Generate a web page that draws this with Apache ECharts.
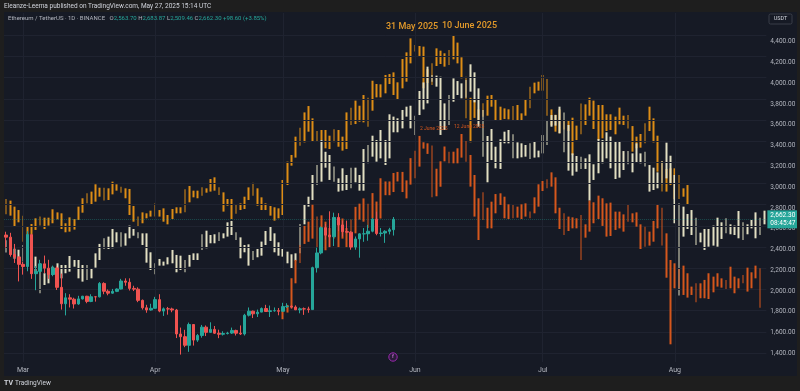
<!DOCTYPE html>
<html><head><meta charset="utf-8">
<script src="https://cdn.jsdelivr.net/npm/echarts/dist/echarts.min.js"></script>
<style>html,body{margin:0;padding:0;background:#161a25;}#c{width:800px;height:391px;}</style>
</head><body><div id="c"></div><script>
// ---- data ----
const startDate = '2025-02-25';
const dayCount = 179;
const monthTicks = ['2025-03-01','2025-04-01','2025-05-01','2025-06-01','2025-07-01','2025-08-01'];
const monthNames = ['Mar','Apr','May','Jun','Jul','Aug'];
const priceTicks = [1400,1600,1800,2000,2200,2400,2600,2800,3000,3200,3400,3600,3800,4000,4200,4400];
const lastPrice = 2662.30;

// ETH/USDT daily candles [open, high, low, close], from 2025-02-25
const ethOHLC = [
[2514,2545,2395,2494],[2494,2535,2310,2330],[2330,2430,2250,2307],[2307,2310,2076,2237],[2237,2260,2140,2217],
[2217,2550,2172,2518],[2518,2525,2100,2149],[2149,2220,1993,2171],[2171,2280,2150,2242],[2242,2320,2155,2201],
[2201,2280,2100,2141],[2141,2225,2125,2203],[2203,2220,1995,2020],[2020,2150,1810,1865],[1865,1965,1755,1921],
[1921,1955,1830,1908],[1908,1922,1820,1863],[1863,1940,1855,1911],[1911,1940,1905,1936],[1936,1940,1870,1887],
[1887,1955,1880,1931],[1931,1935,1885,1930],[1930,2070,1925,2057],[2057,2068,1955,1983],[1983,2000,1945,1965],
[1965,2005,1960,1982],[1982,2010,1975,2004],[2004,2100,2000,2080],[2080,2105,2035,2068],[2068,2105,1990,2010],
[2010,2035,1985,2003],[2003,2020,1880,1897],[1897,1905,1810,1827],[1827,1855,1780,1806],[1806,1865,1800,1822],
[1822,1930,1820,1904],[1904,1955,1785,1796],[1796,1830,1750,1817],[1817,1835,1762,1816],[1816,1828,1785,1806],
[1806,1816,1541,1580],[1580,1640,1385,1554],[1554,1619,1455,1473],[1473,1687,1411,1669],[1669,1670,1470,1522],
[1522,1580,1505,1566],[1566,1665,1545,1644],[1644,1660,1560,1595],[1595,1690,1590,1623],[1623,1655,1580,1587],
[1587,1620,1540,1577],[1577,1605,1565,1584],[1584,1600,1575,1588],[1588,1640,1580,1613],[1613,1620,1565,1587],
[1587,1660,1570,1580],[1580,1770,1565,1757],[1757,1830,1745,1795],[1795,1800,1730,1770],[1770,1810,1740,1786],
[1786,1830,1785,1820],[1820,1855,1790,1792],[1792,1848,1740,1799],[1799,1830,1790,1800],[1800,1825,1756,1794],
[1794,1874,1792,1838],[1838,1870,1825,1842],[1842,1850,1820,1834],[1834,1850,1805,1808],[1808,1830,1775,1817],
[1817,1830,1760,1816],[1816,1837,1780,1810],[1810,2215,1810,2206],[2206,2395,2160,2345],[2345,2595,2332,2583],
[2583,2620,2470,2513],[2513,2738,2400,2497],[2497,2725,2410,2680],[2680,2720,2550,2609],[2609,2650,2500,2546],
[2546,2650,2531,2541],[2541,2550,2375,2400],[2400,2500,2375,2477],[2477,2530,2300,2525],[2525,2580,2450,2526],
[2526,2610,2460,2550],[2550,2675,2540,2663],[2663,2735,2512,2528],[2528,2580,2500,2533],[2533,2560,2440,2549],
[2549,2582,2520,2564],[2564,2684,2509,2662.3]
];

// Projected "bars pattern" drawings: [low, high] per day
const orangeBars = [
[2710,2855],[2697,2839],[2593,2782],[2634,2750],[2451,2697],[2499,2599],[2521,2618],[2562,2672],[2603,2688],[2571,2678],
[2603,2678],[2625,2757],[2662,2728],[2571,2719],[2540,2625],[2546,2681],[2565,2665],[2656,2782],[2725,2861],[2813,2908],
[2807,2924],[2829,2993],[2876,2961],[2839,2961],[2845,2955],[2898,3018],[2933,2993],[2914,2971],[2861,2955],[2703,2949],
[2640,2788],[2599,2688],[2625,2728],[2672,2719],[2688,2744],[2688,2813],[2688,2750],[2640,2766],[2615,2703],[2665,2760],
[2719,2776],[2719,2776],[2728,2946],[2823,2977],[2870,2933],[2861,2933],[2886,2964],[2914,2955],[2924,3043],[2933,3059],
[2892,2964],[2735,2917],[2791,2854],[2665,2854],[2716,2798],[2750,2813],[2760,2876],[2845,2964],[2886,3008],[2791,2955],
[2750,2870],[2750,2813],[2697,2788],[2650,2776],[2672,2766],[2703,3034],[2986,3207],[3169,3270],[3245,3443],[3358,3528],
[3389,3672],[3490,3732],[3396,3616],[3396,3496],[3411,3506],[3333,3506],[3326,3452],[3389,3512],[3348,3506],[3311,3443],
[3326,3672],[3553,3717],[3562,3783],[3584,3735],[3578,3836],[3537,3811],[3688,3971],[3814,3940],[3814,3937],[3852,4025],
[3940,4034],[3836,4050],[3789,3956],[3899,4176],[3962,4239],[4135,4371],[4246,4309],[4205,4299],[3900,4293],[3950,4080],
[3931,4135],[4110,4277],[4129,4255],[4104,4230],[4120,4261],[4173,4394],[4135,4331],[3994,4192],[3616,4009],[3390,3810],
[3620,3800],[3600,3700],[3632,3758],[3641,3830],[3726,3836],[3591,3798],[3600,3726],[3610,3710],[3606,3701],[3594,3732],
[3600,3742],[3594,3663],[3641,3795],[3710,3915],[3852,3953],[3877,3962],[3877,4025],[3641,3987],[3550,3700],[3490,3650],
[3475,3700],[3510,3600],[3496,3591],[3270,3622],[3411,3547],[3465,3757],[3553,3748],[3641,3811],[3515,3783],[3411,3742],
[3427,3742],[3496,3654],[3506,3654],[3465,3632],[3559,3717],[3553,3641],[3521,3647],[3301,3543],[3333,3443],[3339,3468],
[3380,3569],[3496,3726],[3389,3616],[3112,3452],[2924,3213],[2924,3138],[2986,3144],[2854,3144],[2854,3081],[2876,2955],
[2804,2986]
];
const creamBars = [
[2350,2465],[2330,2430],[2290,2385],[2290,2375],[2263,2420],[2300,2420],[2150,2300],[2153,2310],[1964,2247],[2042,2153],
[2058,2153],[2137,2215],[2105,2247],[2105,2231],[2153,2231],[2168,2316],[2215,2278],[2105,2278],[2074,2231],[2090,2231],
[2105,2200],[2206,2341],[2278,2430],[2382,2483],[2382,2499],[2389,2571],[2445,2540],[2404,2540],[2414,2530],[2483,2603],
[2508,2571],[2483,2540],[2420,2530],[2253,2530],[2184,2351],[2143,2247],[2225,2288],[2225,2263],[2237,2304],[2247,2373],
[2162,2326],[2184,2319],[2162,2278],[2215,2326],[2278,2341],[2278,2341],[2373,2521],[2389,2555],[2436,2514],[2436,2521],
[2458,2540],[2483,2530],[2499,2634],[2514,2647],[2467,2540],[2294,2492],[2351,2420],[2225,2426],[2278,2363],[2304,2382],
[2319,2452],[2420,2552],[2458,2599],[2351,2530],[2319,2445],[2310,2382],[2247,2357],[2193,2332],[2272,2341],[2341,2618],
[2615,2807],[2782,2876],[2845,3081],[2986,3175],[3018,3411],[3150,3300],[3034,3270],[3018,3160],[2924,3049],[2933,3144],
[2939,3081],[2955,3150],[3012,3150],[2933,3081],[2933,3326],[3191,3364],[3254,3452],[3207,3411],[3238,3506],[3175,3411],
[3238,3654],[3484,3632],[3484,3616],[3521,3695],[3632,3726],[3521,3735],[3458,3641],[3647,3874],[3700,3955],[3757,4104],
[3962,4025],[3915,4019],[3459,4009],[3506,3757],[3553,3836],[3773,3993],[3836,3968],[3805,3946],[3811,3978],[3868,4126],
[3767,4050],[3537,3899],[3254,3695],[3012,3449],[3222,3515],[3144,3348],[3138,3418],[3380,3490],[3380,3506],[3238,3465],
[3238,3389],[3248,3380],[3254,3364],[3232,3380],[3245,3402],[3248,3311],[3285,3458],[3364,3594],[3537,3647],[3547,3647],
[3474,3726],[3295,3672],[3122,3553],[3075,3285],[3112,3260],[3138,3254],[3138,3238],[2839,3276],[3034,3182],[3097,3421],
[3191,3411],[3238,3484],[3144,3443],[3043,3396],[3056,3402],[3128,3307],[3182,3307],[3106,3285],[3200,3380],[3191,3285],
[3160,3301],[2924,3175],[2939,3150],[2955,3106],[2993,3213],[3049,3386],[3002,3263],[2625,3081],[1942,2813],[2499,2782],
[2571,2713],[2514,2750],[2420,2678],[2445,2536],[2373,2571],[2404,2571],[2414,2603],[2404,2678],[2477,2634],[2530,2672],
[2521,2615],[2514,2603],[2483,2741],[2467,2634],[2521,2615],[2577,2656],[2483,2728],[2514,2678],[2615,2744]
];
const darkStart = 65; // first day index of the dark-orange pattern
const darkBars = [
[1719,1822],[1782,1854],[1822,2106],[2058,2279],[2250,2420],[2430,2600],[2450,2640],[2480,2800],[2400,2690],[2510,2700],
[2370,2640],[2400,2580],[2480,2620],[2400,2610],[2480,2670],[2400,2580],[2470,2660],[2530,2780],[2660,2810],[2640,2860],
[2580,2810],[2670,2910],[2660,2830],[2670,3050],[2890,3020],[2890,3020],[2920,3100],[3020,3110],[2920,3110],[2860,3030],
[2990,3240],[3050,3310],[3160,3450],[3330,3390],[3280,3380],[2870,3360],[2880,3140],[2970,3210],[3210,3350],[3191,3301],
[3191,3301],[3191,3333],[3245,3468],[3207,3402],[2971,3270],[2688,3081],[2467,2861],[2656,2917],[2577,2772],[2577,2829],
[2719,2901],[2798,2908],[2672,2876],[2665,2804],[2672,2798],[2678,2782],[2665,2804],[2688,2813],[2672,2735],[2719,2870],
[2782,2993],[2930,3024],[2955,3040],[2971,3106],[2719,3059],[2571,2772],[2514,2719],[2552,2688],[2577,2681],[2577,2672],
[2278,2703],[2489,2615],[2546,2839],[2625,2823],[2665,2886],[2600,2861],[2499,2813],[2505,2820],[2562,2735],[2577,2735],
[2546,2709],[2640,2798],[2634,2719],[2593,2728],[2382,2615],[2404,2593],[2414,2546],[2451,2647],[2577,2798],[2414,2772],
[2111,2530],[1482,2278],[2011,2247],[2011,2193],[1948,2225],[1923,2153],[1948,2027],[1879,2058],[1917,2058],[1917,2090],
[1910,2153],[1973,2121],[2027,2153],[2017,2105],[2005,2090],[2011,2215],[1964,2121],[2011,2105],[2058,2137],[1980,2206],
[2011,2162],[2105,2225],[1828,2200]
];

// ---- build ----
const dates = [];
const t0 = Date.parse(startDate + 'T00:00:00Z');
for (let i = 0; i < dayCount; i++) dates.push(new Date(t0 + i * 86400000).toISOString().slice(0, 10));

const C = {
  pane: '#161a25', frame: '#1e1e1e', grid: '#1f2330', text: '#b2b5be',
  up: '#26a69a', down: '#ef5350', orange: '#dd8d16', cream: '#e2dfc2', dark: '#d5571d'
};
const FONT = 'Roboto, "Liberation Sans", sans-serif';

// plot area geometry (pixels)
const plot = { left: 3.87, width: 762.5, top: 13, bottom: 362 };
const yRef = { hiVal: 4400, hiPx: 35.3, loVal: 1400, loPx: 353.0 };
const pxPerUnit = (yRef.loPx - yRef.hiPx) / (yRef.hiVal - yRef.loVal);
const dataMax = yRef.hiVal + (yRef.hiPx - plot.top) / pxPerUnit;
const dataMin = yRef.hiVal - (plot.bottom - yRef.hiPx) / pxPerUnit;
const scaleMin = 1200, scaleMax = 4800;
const scaleTop = yRef.hiPx - (scaleMax - yRef.hiVal) * pxPerUnit;
const scaleH = (scaleMax - scaleMin) * pxPerUnit;

const toBar = (r) => [r[0], r[1], r[0], r[1]];
const fmtPrice = (v) => v.toLocaleString('en-US', {minimumFractionDigits: 2, maximumFractionDigits: 2});

function patternSeries(name, bars, offset, color, z) {
  const data = [];
  for (let i = 0; i < offset; i++) data.push('-');
  bars.forEach(b => data.push(toBar(b)));
  return {
    name, type: 'candlestick', xAxisIndex: 0, yAxisIndex: 0, z,
    barWidth: 2.3, data,
    itemStyle: { color, color0: color, borderColor: color, borderColor0: color, borderWidth: 0 }
  };
}

const chart = echarts.init(document.getElementById('c'), null, { renderer: 'canvas' });
chart.setOption({
  animation: false,
  backgroundColor: C.pane,
  textStyle: { fontFamily: FONT },
  grid: [
    { left: plot.left, width: plot.width, top: plot.top, height: plot.bottom - plot.top },
    { left: plot.left, width: plot.width, top: scaleTop, height: scaleH }
  ],
  xAxis: [
    { type: 'category', gridIndex: 0, data: dates, boundaryGap: true,
      axisLine: { show: false }, axisTick: { show: false }, splitLine: { show: false },
      axisLabel: { color: C.text, fontSize: 7, margin: 5, fontFamily: FONT,
        interval: (idx, val) => monthTicks.indexOf(val) >= 0,
        formatter: (val) => { const k = monthTicks.indexOf(val); return k >= 0 ? monthNames[k] : ''; } } },
    { type: 'category', gridIndex: 1, data: dates, show: false }
  ],
  yAxis: [
    { type: 'value', gridIndex: 0, min: dataMin, max: dataMax, show: false, splitLine: { show: false } },
    { type: 'value', gridIndex: 1, min: scaleMin, max: scaleMax, interval: 200, position: 'right',
      axisLine: { show: false }, axisTick: { show: false }, splitLine: { show: false },
      axisLabel: { color: C.text, fontSize: 6.5, margin: 4, fontFamily: FONT,
        formatter: (v) => priceTicks.indexOf(v) >= 0 ? fmtPrice(v) : '' } }
  ],
  series: [
    { type: 'line', data: [], z: 1, xAxisIndex: 0, yAxisIndex: 0,
      markLine: { silent: true, symbol: 'none', animation: false, label: { show: false },
        lineStyle: { color: C.grid, width: 1, type: 'solid' },
        data: priceTicks.map(v => ({ yAxis: v })).concat(monthTicks.map(v => ({ xAxis: v }))) } },
    patternSeries('orange', orangeBars, 0, C.orange, 3),
    patternSeries('cream', creamBars, 0, C.cream, 4),
    patternSeries('dark', darkBars, darkStart, C.dark, 5),
    { name: 'ETHUSDT', type: 'candlestick', z: 6, xAxisIndex: 0, yAxisIndex: 0, barWidth: 3,
      data: ethOHLC.map(d => [d[0], d[3], d[2], d[1]]),
      itemStyle: { color: C.up, color0: C.down, borderColor: C.up, borderColor0: C.down, borderWidth: 1 },
      markLine: { silent: true, symbol: 'none', animation: false,
        lineStyle: { color: 'rgba(38,166,154,0.35)', width: 1, type: 'dotted' },
        label: { show: true, position: 'end', distance: 1, formatter: fmtPrice(lastPrice) + '\n08:45:47',
          backgroundColor: C.up, color: '#ffffff', fontSize: 6.5, lineHeight: 8, padding: [1, 3, 1, 3], fontFamily: FONT },
        data: [{ yAxis: lastPrice }] } }
  ],
  graphic: [
    { type: 'rect', z: 50, shape: { x: 0, y: 0, width: 800, height: 12 }, style: { fill: C.frame } },
    { type: 'rect', z: 50, shape: { x: 0, y: 0, width: 4, height: 391 }, style: { fill: C.frame } },
    { type: 'rect', z: 50, shape: { x: 797, y: 0, width: 3, height: 391 }, style: { fill: C.frame } },
    { type: 'rect', z: 50, shape: { x: 0, y: 376, width: 800, height: 15 }, style: { fill: C.frame } },
    { type: 'text', z: 60, x: 4, y: 6, style: { text: 'Eleanze-Leema published on TradingView.com, May 27, 2025 15:14 UTC',
        fill: '#d1d4dc', font: '6.5px ' + FONT, textVerticalAlign: 'middle' } },
    { type: 'text', z: 60, x: 8, y: 18, style: { textVerticalAlign: 'middle', font: '6px ' + FONT,
        rich: { g: { fill: '#b2b5be', fontSize: 6, fontFamily: FONT }, t: { fill: C.up, fontSize: 6, fontFamily: FONT } },
        text: '{g|Ethereum / TetherUS · 1D · BINANCE   O}{t|2,563.70}{g| H}{t|2,683.87}{g| L}{t|2,509.46}{g| C}{t|2,662.30 +98.60 (+3.85%)}' } },
    { type: 'rect', z: 60, shape: { x: 769, y: 14, width: 23, height: 10, r: 1.5 }, style: { fill: '#161a25', stroke: '#434651', lineWidth: 0.8 } },
    { type: 'text', z: 61, x: 780.5, y: 19, style: { text: 'USDT', fill: '#d1d4dc', font: '5.5px ' + FONT, textAlign: 'center', textVerticalAlign: 'middle' } },
    { type: 'text', z: 60, x: 386, y: 27, style: { text: '31 May 2025', fill: '#e39a2a', font: '500 9px ' + FONT, textVerticalAlign: 'middle' } },
    { type: 'text', z: 60, x: 442, y: 26, style: { text: '10 June 2025', fill: '#e39a2a', font: '500 9px ' + FONT, textVerticalAlign: 'middle' } },
    { type: 'text', z: 60, x: 420, y: 129, style: { text: '2 June 2025', fill: '#d5571d', font: '5px ' + FONT, textVerticalAlign: 'middle' } },
    { type: 'text', z: 60, x: 454, y: 127, style: { text: '12 June 2025', fill: '#d5571d', font: '5px ' + FONT, textVerticalAlign: 'middle' } },
    { type: 'circle', z: 60, shape: { cx: 393, cy: 357, r: 4.2 }, style: { fill: 'rgba(156,39,176,0.15)', stroke: '#9c27b0', lineWidth: 1 } },
    { type: 'text', z: 61, x: 393, y: 357, style: { text: 'f', fill: '#ba68c8', font: 'bold 5px ' + FONT, textAlign: 'center', textVerticalAlign: 'middle' } },
    { type: 'text', z: 60, x: 4, y: 383, style: { text: 'TV', fill: '#d1d4dc', font: 'bold 7px ' + FONT, textVerticalAlign: 'middle' } },
    { type: 'text', z: 60, x: 15, y: 383, style: { text: 'TradingView', fill: '#d1d4dc', font: '6.5px ' + FONT, textVerticalAlign: 'middle' } }
  ]
});
</script></body></html>
